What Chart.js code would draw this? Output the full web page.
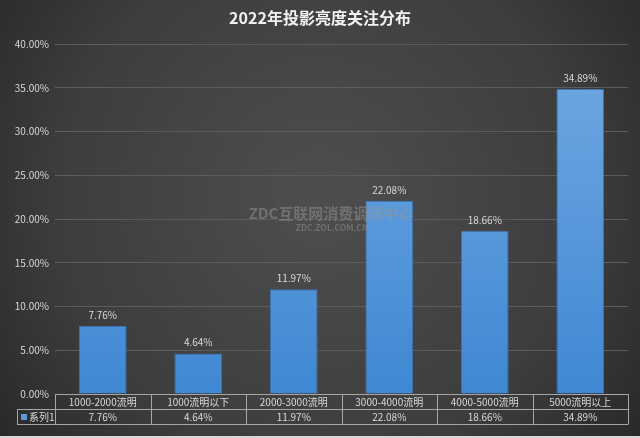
<!DOCTYPE html>
<html><head><meta charset="utf-8">
<script src="https://cdn.jsdelivr.net/npm/chart.js@4"></script>
<style>html,body{margin:0;padding:0;background:#333;}#c{display:block;}</style>
</head><body>
<canvas id="c" width="640" height="438"></canvas>
<script>
const categories = ['1000-2000流明','1000流明以下','2000-3000流明','3000-4000流明','4000-5000流明','5000流明以上'];
const seriesName = '系列1';
const values = [0.0776, 0.0464, 0.1197, 0.2208, 0.1866, 0.3489];
const titleText = '2022年投影亮度关注分布';
const FONT = '"Noto Sans CJK SC","Noto Sans",sans-serif';
const pct = v => (v*100).toFixed(2) + '%';

const bgPlugin = {
  id:'bg',
  beforeDraw(chart){
    const {ctx,width,height} = chart;
    ctx.save();
    const g = ctx.createRadialGradient(width/2, height*0.45, 20, width/2, height*0.45, 420);
    g.addColorStop(0,'#4d4d4d');
    g.addColorStop(0.6,'#3d3d3d');
    g.addColorStop(1,'#262626');
    ctx.fillStyle = g;
    ctx.fillRect(0,0,width,height);
    ctx.fillStyle = '#d8d8d8';
    ctx.fillRect(0,height-2,width,2);
    // title
    ctx.fillStyle = '#f2f2f2';
    ctx.font = 'bold 16px ' + FONT;
    ctx.textAlign = 'center';
    ctx.textBaseline = 'middle';
    ctx.fillText(titleText, width/2, 18);
    ctx.restore();
  }
};

const overlayPlugin = {
  id:'overlay',
  afterDatasetsDraw(chart){
    const {ctx} = chart;
    const meta = chart.getDatasetMeta(0);
    ctx.save();
    ctx.fillStyle = '#d9d9d9';
    ctx.font = '10px ' + FONT;
    ctx.textAlign = 'center';
    ctx.textBaseline = 'bottom';
    meta.data.forEach((bar,i)=>{
      ctx.fillText(pct(values[i]), bar.x, bar.y - 6);
    });
    ctx.restore();
  },
  afterDraw(chart){
    const {ctx, chartArea} = chart;
    const xs = chart.scales.x;
    const top = chartArea.bottom, mid = top + 15.5, bot = top + 30.5;
    const left = chartArea.left, right = chartArea.right;
    const n = categories.length;
    const cw = (right-left)/n;
    ctx.save();
    ctx.strokeStyle = '#a6a6a6';
    ctx.lineWidth = 1;
    ctx.beginPath();
    ctx.moveTo(left, top+0.5); ctx.lineTo(right, top+0.5);
    ctx.moveTo(17, mid); ctx.lineTo(right, mid);
    ctx.moveTo(17, bot); ctx.lineTo(right, bot);
    ctx.moveTo(17.5, mid); ctx.lineTo(17.5, bot);
    for(let i=0;i<=n;i++){
      const x = Math.round(left + i*cw)+0.5;
      ctx.moveTo(x, top); ctx.lineTo(x, bot);
    }
    ctx.stroke();
    ctx.fillStyle = '#d9d9d9';
    ctx.font = '10px ' + FONT;
    ctx.textAlign = 'center';
    ctx.textBaseline = 'middle';
    categories.forEach((c,i)=>{
      const x = xs.getPixelForValue(i);
      ctx.fillText(c, x, (top+mid)/2+0.5);
      ctx.fillText(pct(values[i]), x, (mid+bot)/2+0.5);
    });
    // legend key
    ctx.fillStyle = '#5b9bd5';
    ctx.fillRect(21, (mid+bot)/2-3, 6, 6);
    ctx.fillStyle = '#d9d9d9';
    ctx.textAlign = 'left';
    ctx.fillText(seriesName, 29, (mid+bot)/2+0.5);
    // watermark
    ctx.textAlign = 'center';
    ctx.fillStyle = 'rgba(150,150,150,0.5)';
    ctx.font = 'bold 15px ' + FONT;
    ctx.fillText('ZDC互联网消费调研中心', 331, 213);
    ctx.font = 'bold 8.5px ' + FONT;
    ctx.fillText('ZDC.ZOL.COM.CN', 332, 228);
    ctx.restore();
  }
};

new Chart(document.getElementById('c'), {
  type:'bar',
  data:{
    labels: categories,
    datasets:[{
      label: seriesName,
      data: values,
      backgroundColor: (c)=>{
        const ch = c.chart; const a = ch.chartArea;
        if(!a) return '#5b9bd5';
        const g = ch.ctx.createLinearGradient(0, a.top, 0, a.bottom);
        g.addColorStop(0,'#72a9e2');
        g.addColorStop(1,'#3f88d3');
        return g;
      },
      borderColor:'#3a74b4',
      borderWidth:1,
      categoryPercentage:1,
      barPercentage:0.5
    }]
  },
  options:{
    responsive:false,
    animation:false,
    layout:{padding:{top:44,bottom:44,left:0,right:12}},
    plugins:{legend:{display:false},title:{display:false},tooltip:{enabled:false}},
    scales:{
      x:{display:false},
      y:{
        min:0,max:0.4,
        afterFit(s){s.width=55;},
        border:{display:false},
        grid:{color:'#5c5c5c',lineWidth:1,drawTicks:false},
        ticks:{stepSize:0.05,color:'#d9d9d9',padding:6,font:{size:10,family:FONT},callback:v=>pct(v)}
      }
    }
  },
  plugins:[bgPlugin, overlayPlugin]
});
</script>
</body></html>
